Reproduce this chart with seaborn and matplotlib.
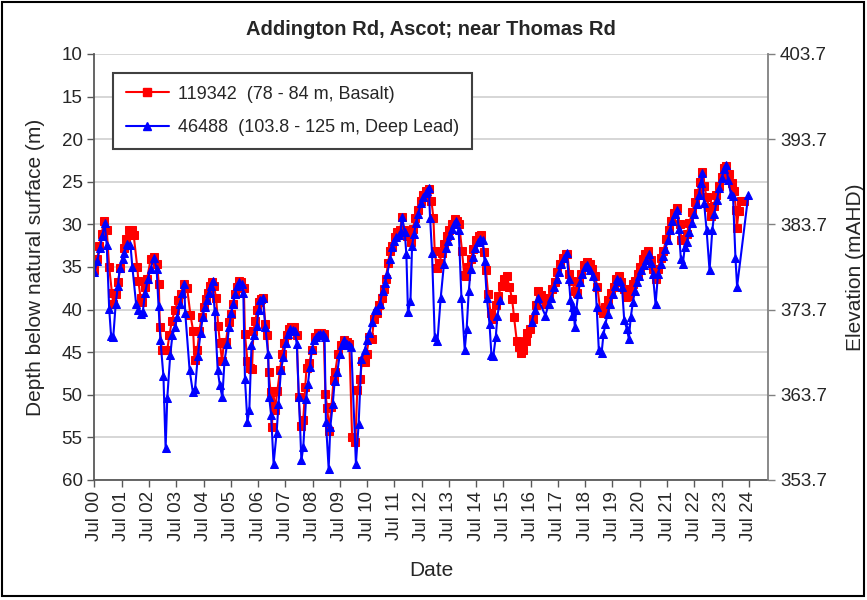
import numpy as np
import pandas as pd
import matplotlib
matplotlib.use("Agg")
import matplotlib.pyplot as plt
from matplotlib.lines import Line2D
from matplotlib.patches import Rectangle
import seaborn as sns

TITLE = "Addington Rd, Ascot; near Thomas Rd"
SURFACE_ELEV = 413.7

# Bore 119342 (78 - 84 m, Basalt): decimal year, depth below surface (m)
years_119342 = [
    2000.50, 2000.60, 2000.68, 2000.77, 2000.84, 2000.95, 2001.04, 2001.14, 2001.19, 2001.30,
    2001.36, 2001.45, 2001.58, 2001.66, 2001.75, 2001.87, 2001.94, 2002.07, 2002.11, 2002.19,
    2002.25, 2002.36, 2002.43, 2002.56, 2002.70, 2002.80, 2002.86, 2002.90, 2002.97, 2003.07,
    2003.17, 2003.25, 2003.34, 2003.46, 2003.56, 2003.66, 2003.77, 2003.90, 2004.02, 2004.12,
    2004.17, 2004.27, 2004.35, 2004.43, 2004.51, 2004.59, 2004.66, 2004.74, 2004.81, 2004.88,
    2004.96, 2005.04, 2005.10, 2005.18, 2005.25, 2005.32, 2005.42, 2005.49, 2005.57, 2005.64,
    2005.71, 2005.79, 2005.88, 2005.98, 2006.02, 2006.11, 2006.20, 2006.28, 2006.33, 2006.40,
    2006.47, 2006.55, 2006.62, 2006.69, 2006.77, 2006.84, 2006.89, 2006.96, 2007.01, 2007.06,
    2007.12, 2007.21, 2007.30, 2007.38, 2007.45, 2007.55, 2007.62, 2007.72, 2007.82, 2007.92,
    2007.99, 2008.06, 2008.16, 2008.23, 2008.28, 2008.38, 2008.47, 2008.60, 2008.70, 2008.80,
    2008.91, 2008.97, 2009.04, 2009.11, 2009.19, 2009.27, 2009.33, 2009.43, 2009.53, 2009.64,
    2009.75, 2009.85, 2009.95, 2010.07, 2010.14, 2010.25, 2010.31, 2010.43, 2010.48, 2010.58,
    2010.68, 2010.75, 2010.88, 2010.95, 2011.05, 2011.12, 2011.19, 2011.27, 2011.34, 2011.41,
    2011.51, 2011.61, 2011.71, 2011.78, 2011.86, 2011.95, 2012.03, 2012.10, 2012.17, 2012.27,
    2012.37, 2012.47, 2012.56, 2012.66, 2012.76, 2012.86, 2012.93, 2012.98, 2013.05, 2013.15,
    2013.25, 2013.32, 2013.42, 2013.52, 2013.62, 2013.71, 2013.81, 2013.88, 2013.98, 2014.06,
    2014.13, 2014.20, 2014.30, 2014.40, 2014.50, 2014.59, 2014.69, 2014.79, 2014.86, 2014.94,
    2015.03, 2015.11, 2015.21, 2015.30, 2015.43, 2015.52, 2015.62, 2015.72, 2015.82, 2015.89,
    2015.99, 2016.06, 2016.14, 2016.23, 2016.31, 2016.38, 2016.48, 2016.58, 2016.68, 2016.77,
    2016.87, 2016.97, 2017.06, 2017.19, 2017.28, 2017.38, 2017.48, 2017.58, 2017.68, 2017.78,
    2017.85, 2017.92, 2018.02, 2018.12, 2018.19, 2018.26, 2018.36, 2018.46, 2018.56, 2018.66,
    2018.75, 2018.85, 2018.95, 2019.05, 2019.14, 2019.24, 2019.34, 2019.44, 2019.54, 2019.63,
    2019.73, 2019.83, 2019.93, 2020.00, 2020.07, 2020.16, 2020.25, 2020.33, 2020.42, 2020.52,
    2020.61, 2020.71, 2020.81, 2020.91, 2020.98, 2021.08, 2021.17, 2021.27, 2021.37, 2021.47,
    2021.57, 2021.66, 2021.76, 2021.86, 2021.96, 2022.03, 2022.13, 2022.23, 2022.32, 2022.42,
    2022.52, 2022.62, 2022.72, 2022.79, 2022.86, 2022.96, 2023.03, 2023.11, 2023.21, 2023.30,
    2023.40, 2023.50, 2023.60, 2023.67, 2023.77, 2023.87, 2023.96, 2024.03, 2024.06, 2024.13,
    2024.21, 2024.33,
]
depth_119342 = [
    35.4, 34.1, 32.5, 31.1, 29.6, 30.6, 35.0, 38.0, 39.3, 38.2,
    36.8, 35.1, 32.8, 31.7, 30.6, 30.6, 31.3, 35.0, 36.6, 38.6,
    39.1, 37.4, 36.4, 34.1, 33.8, 34.6, 37.0, 42.1, 44.7, 44.8,
    44.7, 43.0, 41.3, 40.0, 38.9, 38.2, 37.0, 37.5, 40.6, 42.5,
    45.9, 44.8, 42.5, 40.9, 39.7, 38.8, 38.1, 37.2, 36.8, 37.2,
    38.6, 41.9, 43.9, 46.0, 43.8, 43.8, 41.5, 40.5, 39.4, 38.2,
    37.3, 36.7, 36.8, 37.5, 42.9, 46.0, 46.8, 47.0, 42.5, 41.3,
    40.1, 39.1, 38.8, 38.6, 41.7, 43.0, 47.3, 49.7, 53.8, 49.6,
    51.8, 49.5, 47.1, 45.2, 43.9, 43.0, 42.3, 42.1, 42.1, 43.0,
    50.3, 53.7, 52.9, 49.1, 46.8, 46.3, 44.8, 43.2, 42.8, 42.8,
    42.9, 49.9, 51.6, 54.2, 51.4, 48.3, 47.3, 45.2, 44.2, 43.6,
    43.8, 44.0, 55.0, 55.5, 49.4, 48.1, 46.0, 46.2, 45.2, 43.2,
    43.4, 41.1, 40.4, 39.5, 38.6, 37.6, 36.4, 34.5, 33.1, 32.5,
    31.5, 30.9, 30.7, 29.1, 30.7, 31.4, 31.3, 32.1, 30.5, 29.3,
    28.3, 27.2, 26.6, 26.1, 25.9, 27.2, 29.2, 33.1, 35.1, 34.5,
    33.3, 32.3, 31.4, 30.7, 30.0, 29.4, 29.6, 30.0, 33.1, 35.9,
    36.0, 35.0, 34.1, 32.9, 31.8, 31.4, 31.3, 33.2, 35.4, 38.2,
    40.4, 41.1, 39.5, 38.4, 37.2, 36.4, 36.1, 37.3, 38.8, 40.9,
    43.7, 44.4, 45.1, 44.7, 43.7, 42.7, 42.3, 41.1, 39.5, 37.8,
    38.3, 38.8, 39.3, 38.6, 37.6, 36.8, 35.6, 34.6, 33.9, 33.5,
    33.5, 35.8, 36.6, 37.8, 38.0, 36.8, 35.8, 34.8, 34.4, 34.6,
    35.2, 36.0, 37.4, 40.1, 40.4, 39.7, 38.9, 38.0, 37.4, 36.4,
    36.0, 36.8, 37.6, 38.5, 38.4, 37.6, 37.0, 36.6, 35.8, 35.0,
    34.1, 33.5, 33.1, 34.2, 35.2, 36.4, 35.2, 33.9, 33.1, 31.7,
    30.7, 29.6, 28.7, 28.1, 29.9, 31.8, 31.7, 31.1, 29.8, 28.6,
    27.4, 26.3, 25.0, 23.9, 25.5, 26.8, 27.9, 29.0, 27.8, 26.6,
    25.5, 24.4, 23.4, 23.1, 24.1, 25.1, 26.1, 28.3, 30.4, 28.4,
    27.2, 27.2,
]

# Bore 46488 (103.8 - 125 m, Deep Lead); NaN marks a gap in the record
years_46488 = [
    2000.50, 2000.60, 2000.70, 2000.79, 2000.87, 2000.95, 2001.04, 2001.11, 2001.19, 2001.28,
    2001.36, 2001.43, 2001.53, 2001.60, 2001.70, 2001.82, 2001.89, 2002.03, 2002.11, 2002.21,
    2002.27, 2002.36, 2002.46, 2002.56, 2002.68, 2002.78, 2002.85, 2002.92, 2003.03, 2003.11,
    2003.17, 2003.28, 2003.36, 2003.45, 2003.53, 2003.63, 2003.72, 2003.79, 2003.83, 2003.99,
    2004.11, 2004.19, 2004.29, 2004.39, 2004.47, 2004.54, 2004.61, 2004.69, 2004.76, 2004.83,
    2004.91, 2005.02, 2005.10, 2005.19, 2005.27, 2005.37, 2005.44, 2005.52, 2005.59, 2005.66,
    2005.74, 2005.81, 2005.90, 2005.96, 2006.02, 2006.11, 2006.18, 2006.26, 2006.35, 2006.45,
    2006.52, 2006.59, 2006.67, 2006.77, 2006.87, 2006.91, 2006.98, 2007.07, 2007.18, 2007.25,
    2007.34, 2007.43, 2007.51, 2007.60, 2007.67, 2007.77, 2007.84, 2007.92, 2008.00, 2008.09,
    2008.16, 2008.26, 2008.33, 2008.40, 2008.48, 2008.55, 2008.62, 2008.69, 2008.77, 2008.88,
    2008.94, 2008.99, 2009.09, 2009.15, 2009.24, 2009.31, 2009.41, 2009.50, 2009.58, 2009.66,
    2009.75, 2009.85, 2009.92, 2010.09, 2010.19, 2010.29, 2010.41, 2010.50, 2010.58, 2010.68,
    2010.78, 2010.88, 2010.97, 2011.07, 2011.15, 2011.24, 2011.34, 2011.41, 2011.49, 2011.56,
    2011.66, 2011.73, 2011.78, 2011.88, 2011.94, 2012.00, 2012.09, 2012.15, 2012.22, 2012.30,
    2012.37, 2012.47, 2012.56, 2012.65, 2012.71, 2012.76, 2012.81, 2012.88, 2012.98, 2013.08,
    2013.20, 2013.32, 2013.40, 2013.47, 2013.54, 2013.62, 2013.69, 2013.76, 2013.86, 2013.96,
    2014.08, 2014.15, 2014.23, 2014.30, 2014.37, 2014.45, 2014.55, 2014.64, 2014.74, 2014.81,
    2014.89, 2014.99, 2015.06, 2015.13, 2015.22, 2015.28, 2015.38, 2015.90, 2016.53, 2016.65,
    2016.75, 2017.04, 2017.16, 2017.26, 2017.36, 2017.46, 2017.53, 2017.63, 2017.73, 2017.82,
    2017.90, 2017.96, 2018.02, 2018.07, 2018.12, 2018.17, 2018.24, 2018.31, 2018.39, 2018.48,
    2018.58, 2018.68, 2018.78, 2018.88, 2018.92, 2019.00, 2019.10, 2019.17, 2019.24, 2019.32,
    2019.41, 2019.51, 2019.59, 2019.68, 2019.78, 2019.85, 2019.93, 2020.03, 2020.10, 2020.17,
    2020.25, 2020.32, 2020.39, 2020.47, 2020.56, 2020.64, 2020.74, 2020.83, 2020.91, 2020.98,
    2021.08, 2021.17, 2021.27, 2021.37, 2021.44, 2021.54, 2021.61, 2021.69, 2021.79, 2021.86,
    2021.93, 2022.01, 2022.08, 2022.15, 2022.23, 2022.30, 2022.40, 2022.50, 2022.59, 2022.67,
    2022.74, 2022.79, 2022.86, 2022.95, 2023.06, 2023.16, 2023.23, 2023.33, 2023.42, 2023.50,
    2023.60, 2023.67, 2023.74, 2023.84, 2023.92, 2024.01, 2024.07, 2024.48,
]
depth_46488 = [
    35.6, 34.3, 32.8, 31.4, 29.8, 32.4, 39.9, 43.1, 43.2, 39.3,
    37.2, 35.1, 34.1, 33.3, 32.3, 32.4, 35.0, 39.4, 40.0, 40.5,
    40.3, 38.0, 36.4, 35.2, 33.9, 35.2, 39.6, 43.6, 47.8, 56.3,
    50.4, 45.3, 43.0, 42.1, 40.9, 39.3, 38.1, 37.0, 40.4, 47.1,
    49.7, 49.3, 45.5, 42.8, 40.9, 39.7, 38.9, 38.0, 37.2, 36.6,
    40.2, 47.1, 48.9, 50.3, 46.0, 44.0, 42.0, 40.4, 39.3, 38.2,
    37.2, 36.8, 37.0, 38.0, 48.1, 53.2, 51.8, 44.2, 43.0, 41.9,
    40.1, 38.9, 38.6, 42.1, 45.2, 50.3, 52.4, 58.1, 54.5, 51.1,
    47.1, 45.6, 43.9, 42.9, 42.3, 42.4, 42.5, 44.0, 50.3, 57.7,
    56.1, 50.5, 48.7, 46.7, 44.6, 43.6, 43.2, 43.0, 42.9, 42.9,
    43.2, 53.2, 58.7, 53.8, 51.1, 48.4, 47.3, 45.2, 44.2, 43.6,
    44.0, 44.2, 44.4, 58.1, 53.4, 45.8, 44.8, 43.6, 42.7, 41.5,
    40.1, 40.0, 39.3, 37.8, 36.9, 35.8, 34.1, 32.7, 32.0, 31.5,
    31.3, 30.9, 29.1, 30.9, 33.5, 40.3, 39.0, 32.5, 31.1, 29.8,
    28.8, 27.5, 26.8, 26.3, 26.1, 25.7, 29.2, 33.3, 43.2, 43.7,
    38.6, 34.6, 32.8, 31.9, 31.2, 30.5, 30.0, 29.6, 30.7, 38.6,
    44.7, 42.3, 37.8, 35.2, 33.8, 32.8, 32.1, 31.7, 31.8, 34.3,
    38.6, 41.7, 45.3, 45.4, 43.2, 40.7, 38.9, np.nan, 41.5, 40.1,
    38.6, 40.7, 39.3, 38.6, 37.4, 36.4, 35.6, 34.6, 33.9, 33.3,
    36.4, 38.9, 40.7, 39.7, 42.1, 40.1, 38.2, 36.8, 35.8, 35.0,
    34.8, 35.4, 36.1, 37.2, 39.7, 44.8, 45.1, 42.9, 41.7, 40.5,
    39.3, 38.2, 37.2, 36.4, 36.6, 37.4, 41.2, 42.3, 43.4, 40.9,
    39.1, 37.8, 36.8, 36.0, 35.4, 34.8, 34.2, 33.5, 34.5, 35.8,
    39.4, 35.8, 34.6, 33.7, 32.9, 31.8, 30.7, 29.6, 28.8, 28.3,
    30.5, 34.1, 34.7, 32.7, 32.1, 30.9, 29.8, 28.8, 27.6, 26.5,
    25.1, 24.0, 27.5, 30.6, 35.4, 30.7, 28.8, 27.1, 25.7, 24.6,
    23.5, 23.0, 24.8, 26.4, 26.7, 33.9, 37.3, 26.6,
]

label_119342 = "119342  (78 - 84 m, Basalt)"
label_46488 = "46488  (103.8 - 125 m, Deep Lead)"
tick_years = list(range(2000, 2025))
tick_labels = [f"Jul {y % 100:02d}" for y in tick_years]
depth_ticks = [10, 15, 20, 25, 30, 35, 40, 45, 50, 55, 60]
elev_ticks = [403.7, 393.7, 383.7, 373.7, 363.7, 353.7]

sns.set_style("white")
plt.rcParams["font.family"] = ["Liberation Sans", "DejaVu Sans"]

df_r = pd.DataFrame({"year": years_119342, "depth": depth_119342})
df_b = pd.DataFrame({"year": years_46488, "depth": depth_46488})
df_b["seg"] = df_b["depth"].isna().cumsum()
df_b = df_b.dropna()

fig = plt.figure(figsize=(8.67, 6.0), dpi=100)
ax = fig.add_axes([0.108, 0.2, 0.778, 0.71])

ax.yaxis.grid(True, color="#d0d0d0", linewidth=1.2)
ax.set_axisbelow(True)

sns.lineplot(data=df_r, x="year", y="depth", ax=ax, color="#ff0000",
             marker="s", markersize=5.5, markeredgecolor="#ff0000",
             linewidth=1.5, estimator=None, sort=False)
sns.lineplot(data=df_b, x="year", y="depth", units="seg", ax=ax, color="#0000ff",
             marker="^", markersize=5.5, markeredgecolor="#0000ff",
             linewidth=1.5, estimator=None, sort=False)

ax.set_ylim(60, 10)
ax.set_xlim(2000.47, 2025.21)
ax.set_yticks(depth_ticks)
ax.set_yticklabels([str(v) for v in depth_ticks], fontsize=13.5)
ax.set_xticks([y + 0.5 for y in tick_years])
ax.set_xticklabels(tick_labels, rotation=90, fontsize=13.5)
ax.tick_params(axis="both", direction="out", length=5, width=1, color="#595959",
               left=True, bottom=True, pad=3)
ax.set_xlabel("Date", fontsize=15, labelpad=14)
ax.set_ylabel("Depth below natural surface (m)", fontsize=15, labelpad=12)
ax.set_title(TITLE, fontsize=14.5, fontweight="bold", pad=14)

for side in ["left", "bottom"]:
    ax.spines[side].set_color("#595959")
    ax.spines[side].set_linewidth(1.3)
ax.spines["top"].set_visible(False)
ax.spines["right"].set_visible(False)

ax2 = ax.twinx()
ax2.set_ylim(SURFACE_ELEV - 60, SURFACE_ELEV - 10)
ax2.set_yticks(elev_ticks)
ax2.set_yticklabels([f"{v:.1f}" for v in elev_ticks], fontsize=13.5)
ax2.tick_params(axis="y", direction="out", length=5, width=1, color="#808080", right=True)
ax2.set_ylabel("Elevation (mAHD)", fontsize=15, labelpad=14)
for side in ["top", "left", "bottom"]:
    ax2.spines[side].set_visible(False)
ax2.spines["right"].set_color("#808080")
ax2.spines["right"].set_linewidth(1.3)

handles = [
    Line2D([], [], color="#ff0000", marker="s", markersize=5.5, linewidth=1.5),
    Line2D([], [], color="#0000ff", marker="^", markersize=5.5, linewidth=1.5),
]
leg = ax.legend(handles, [label_119342, label_46488], loc="upper left",
                bbox_to_anchor=(0.0286, 0.955), borderaxespad=0, fontsize=13,
                frameon=True, fancybox=False, framealpha=1, edgecolor="#404040",
                handlelength=2.4, labelspacing=0.9, borderpad=0.7, handletextpad=0.5)
leg.get_frame().set_linewidth(1.5)

fig.patches.append(Rectangle((0.002, 0.007), 0.994, 0.99, transform=fig.transFigure,
                             fill=False, edgecolor="black", linewidth=1.5))

fig.savefig("out.png", dpi=100)
